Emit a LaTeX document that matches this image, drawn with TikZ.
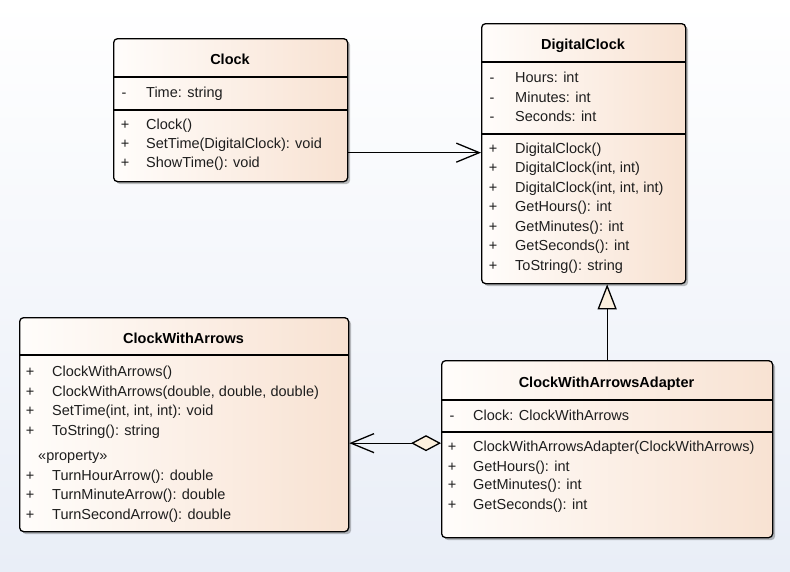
\documentclass[tikz,border=0pt]{standalone}
\usepackage{fontspec}
\setmainfont{Liberation Sans}
\usetikzlibrary{arrows.meta,shadows}
\definecolor{peachR}{RGB}{248,226,210}
\definecolor{peachL}{RGB}{255,253,251}
\definecolor{bgbot}{RGB}{233,238,247}
\definecolor{txt}{RGB}{30,30,30}
\definecolor{cream}{RGB}{252,240,222}
\tikzset{
  umlbox/.style={draw=black, line width=1.3pt, rounded corners=4pt,
    left color=peachL, right color=peachR, anchor=north west, inner sep=0pt,
    drop shadow={shadow xshift=2.5pt, shadow yshift=-2.5pt, opacity=0.25, fill=black}},
  sepline/.style={draw=black, line width=1.3pt},
  row/.style={anchor=base west, inner sep=0pt, text=txt, font=\fontsize{14.5}{17}\selectfont},
  vis/.style={anchor=base, inner sep=0pt, text=txt, font=\fontsize{14.5}{17}\selectfont},
  title/.style={anchor=base, inner sep=0pt, text=black, font=\fontsize{14.5}{17}\selectfont\bfseries},
  conn/.style={draw=black, line width=1.3pt},
}
\begin{document}
\begin{tikzpicture}[x=1pt, y=-1pt]
\useasboundingbox (0,0) rectangle (790,571);
\fill[top color=white, bottom color=bgbot] (0,0) rectangle (790,571);

% ---------- Clock ----------
\node[umlbox, minimum width=234pt, minimum height=143pt] (clock) at (113,38) {};
\draw[sepline] (clock.west |- 0,77) -- (clock.east |- 0,77);
\draw[sepline] (clock.west |- 0,110) -- (clock.east |- 0,110);
\node[title] (clockT) at (230,64) {Clock};
\node[vis] (clockV1) at (124,97) {-};
\node[row] (clockA1) at (146,97) {Time: string};
\node[vis] (clockV2) at (125,129) {+};
\node[row] (clockM1) at (146,129) {Clock()};
\node[vis] (clockV3) at (125,148) {+};
\node[row] (clockM2) at (146,148) {SetTime(DigitalClock): void};
\node[vis] (clockV4) at (125,167) {+};
\node[row] (clockM3) at (146,167) {ShowTime(): void};

% ---------- DigitalClock ----------
\node[umlbox, minimum width=204pt, minimum height=260pt] (dc) at (481,23) {};
\draw[sepline] (dc.west |- 0,62) -- (dc.east |- 0,62);
\draw[sepline] (dc.west |- 0,134) -- (dc.east |- 0,134);
\node[title] (dcT) at (583,49) {DigitalClock};
\node[vis] (dcV1) at (492,82) {-};
\node[row] (dcA1) at (515,82) {Hours: int};
\node[vis] (dcV2) at (492,102) {-};
\node[row] (dcA2) at (515,102) {Minutes: int};
\node[vis] (dcV3) at (492,121) {-};
\node[row] (dcA3) at (515,121) {Seconds: int};
\node[vis] (dcV4) at (493,153) {+};
\node[row] (dcM1) at (515,153) {DigitalClock()};
\node[vis] (dcV5) at (493,172) {+};
\node[row] (dcM2) at (515,172) {DigitalClock(int, int)};
\node[vis] (dcV6) at (493,192) {+};
\node[row] (dcM3) at (515,192) {DigitalClock(int, int, int)};
\node[vis] (dcV7) at (493,211) {+};
\node[row] (dcM4) at (515,211) {GetHours(): int};
\node[vis] (dcV8) at (493,231) {+};
\node[row] (dcM5) at (515,231) {GetMinutes(): int};
\node[vis] (dcV9) at (493,250) {+};
\node[row] (dcM6) at (515,250) {GetSeconds(): int};
\node[vis] (dcV10) at (493,270) {+};
\node[row] (dcM7) at (515,270) {ToString(): string};

% ---------- ClockWithArrows ----------
\node[umlbox, minimum width=329pt, minimum height=214pt] (cwa) at (19,317) {};
\draw[sepline] (cwa.west |- 0,355) -- (cwa.east |- 0,355);
\node[title] (cwaT) at (183.5,343) {ClockWithArrows};
\node[vis] (cwaV1) at (30,376) {+};
\node[row] (cwaM1) at (52,376) {ClockWithArrows()};
\node[vis] (cwaV2) at (30,396) {+};
\node[row] (cwaM2) at (52,396) {ClockWithArrows(double, double, double)};
\node[vis] (cwaV3) at (30,415) {+};
\node[row] (cwaM3) at (52,415) {SetTime(int, int, int): void};
\node[vis] (cwaV4) at (30,435) {+};
\node[row] (cwaM4) at (52,435) {ToString(): string};
\node[row] (cwaS) at (38,460) {«property»};
\node[vis] (cwaV5) at (30,480) {+};
\node[row] (cwaP1) at (52,480) {TurnHourArrow(): double};
\node[vis] (cwaV6) at (30,499) {+};
\node[row] (cwaP2) at (52,499) {TurnMinuteArrow(): double};
\node[vis] (cwaV7) at (30,519) {+};
\node[row] (cwaP3) at (52,519) {TurnSecondArrow(): double};

% ---------- ClockWithArrowsAdapter ----------
\node[umlbox, minimum width=331pt, minimum height=177pt] (ad) at (441,360) {};
\draw[sepline] (ad.west |- 0,400) -- (ad.east |- 0,400);
\draw[sepline] (ad.west |- 0,432) -- (ad.east |- 0,432);
\node[title] (adT) at (606.5,387) {ClockWithArrowsAdapter};
\node[vis] (adV1) at (452,420) {-};
\node[row] (adA1) at (473,420) {Clock: ClockWithArrows};
\node[vis] (adV2) at (452,451) {+};
\node[row] (adM1) at (473,451) {ClockWithArrowsAdapter(ClockWithArrows)};
\node[vis] (adV3) at (452,471) {+};
\node[row] (adM2) at (473,471) {GetHours(): int};
\node[vis] (adV4) at (452,489) {+};
\node[row] (adM3) at (473,489) {GetMinutes(): int};
\node[vis] (adV5) at (452,509) {+};
\node[row] (adM4) at (473,509) {GetSeconds(): int};

% ---------- Connectors ----------
% association Clock -> DigitalClock
\draw[conn, -{Straight Barb[length=23pt,width=19pt]}]
  ([yshift=-42.5pt]clock.east) -- ([yshift=-42.5pt]clock.east -| dc.west);
% generalization Adapter -> DigitalClock
\draw[conn, -{Triangle[open, length=25pt, width=19pt, fill=cream]}]
  (ad.north) -- (ad.north |- dc.south);
% aggregation Adapter <>-> ClockWithArrows
\draw[conn, {Diamond[open, length=30pt, width=16pt, fill=cream]}-{Straight Barb[length=23pt,width=19pt]}]
  ([yshift=6pt]ad.west) -- ([yshift=6pt]ad.west -| cwa.east);
\end{tikzpicture}
\end{document}
